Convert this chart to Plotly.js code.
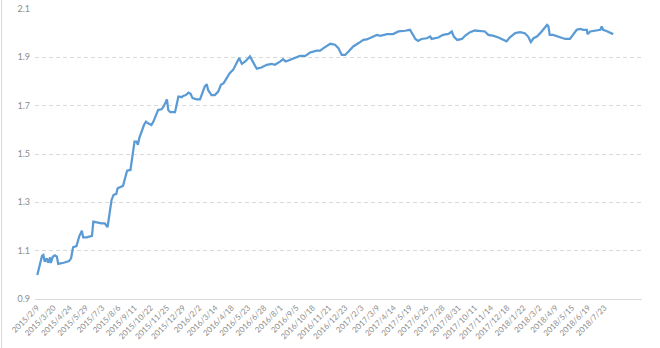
<!DOCTYPE html>
<html>
<head>
<meta charset="utf-8">
<script src="https://cdn.plot.ly/plotly-3.0.1.min.js"></script>
<style>html,body{margin:0;padding:0;background:#fff;}#chart{width:660px;height:348px;}</style>
</head>
<body>
<div id="chart"></div>
<script>
// Tick labels (one every 24 trading days on a category axis)
var tickLabels = ["2015/2/9","2015/3/20","2015/4/24","2015/5/29","2015/7/3","2015/8/6","2015/9/11","2015/10/22","2015/11/25","2015/12/29","2016/2/2","2016/3/14","2016/4/18","2016/5/23","2016/6/28","2016/8/1","2016/9/5","2016/10/18","2016/11/21","2016/12/23","2017/2/3","2017/3/9","2017/4/14","2017/5/19","2017/6/26","2017/7/28","2017/8/31","2017/10/11","2017/11/14","2017/12/18","2018/1/22","2018/3/2","2018/4/9","2018/5/15","2018/6/19","2018/7/23"];
var labelStep = 24;

var dayIndex = [0,7,9,11,14,16,19,20,23,26,29,31,39,47,50,53,58,62,66,68,73,81,83,88,95,100,104,106,110,113,117,119,125,127,130,133,138,141,142,144,147,149,151,155,158,161,164,169,172,176,179,184,187,192,194,197,204,209,214,216,220,224,227,230,236,241,244,248,251,253,258,263,268,272,276,281,285,290,295,299,303,308,315,320,325,332,340,347,352,360,364,368,374,384,389,397,404,414,419,424,434,441,446,451,456,461,468,476,483,488,495,503,508,518,527,535,545,552,555,560,564,569,577,582,584,589,594,601,609,614,617,622,629,634,641,648,656,663,668,676,683,690,695,700,708,715,722,727,731,735,740,745,750,755,757,759,764,769,774,782,789,794,799,804,809,814,815,819,826,834,836,838,843,848,853];
var netValue = [0.999,1.078,1.082,1.054,1.068,1.050,1.072,1.049,1.075,1.081,1.075,1.045,1.050,1.057,1.068,1.114,1.119,1.158,1.183,1.155,1.155,1.161,1.220,1.216,1.213,1.213,1.197,1.234,1.310,1.331,1.335,1.358,1.365,1.368,1.400,1.431,1.434,1.503,1.530,1.551,1.551,1.538,1.565,1.600,1.620,1.634,1.627,1.620,1.634,1.662,1.682,1.685,1.696,1.726,1.682,1.673,1.673,1.738,1.735,1.740,1.744,1.754,1.749,1.731,1.726,1.726,1.752,1.779,1.789,1.765,1.744,1.744,1.758,1.786,1.793,1.814,1.834,1.848,1.876,1.897,1.873,1.883,1.904,1.880,1.853,1.858,1.869,1.873,1.869,1.883,1.892,1.883,1.890,1.899,1.906,1.906,1.920,1.928,1.928,1.938,1.956,1.952,1.938,1.910,1.910,1.924,1.945,1.959,1.972,1.974,1.983,1.993,1.989,1.996,1.996,2.007,2.010,2.014,2.000,1.976,1.968,1.976,1.979,1.986,1.976,1.979,1.982,1.993,1.997,2.007,1.986,1.972,1.976,1.990,2.004,2.011,2.009,2.007,1.993,1.989,1.982,1.972,1.966,1.983,2.000,2.004,2.000,1.986,1.963,1.979,1.986,2.000,2.018,2.034,2.029,1.993,1.993,1.989,1.982,1.976,1.976,1.996,2.014,2.018,2.014,2.014,1.996,2.007,2.009,2.014,2.028,2.014,2.009,2.004,1.996];

var tickVals = tickLabels.map(function(_, i){ return i * labelStep; });

var trace = {
  x: dayIndex,
  y: netValue,
  type: 'scatter',
  mode: 'lines',
  line: {color: '#5B9BD5', width: 2.25, shape: 'linear'},
  hoverinfo: 'skip'
};

var layout = {
  width: 660,
  height: 348,
  margin: {l: 35, r: 18, t: 9, b: 49},
  paper_bgcolor: '#ffffff',
  plot_bgcolor: '#ffffff',
  showlegend: false,
  font: {family: 'Lato, "Open Sans", sans-serif', color: '#808080'},
  xaxis: {
    range: [-3.4, 895.7],
    tickmode: 'array',
    tickvals: tickVals,
    ticktext: tickLabels,
    tickangle: -45,
    tickfont: {size: 8, color: '#8c8c8c'},
    showgrid: false,
    zeroline: false,
    showline: true,
    linecolor: '#d9d9d9',
    linewidth: 1,
    ticks: '',
    ticklen: 0
  },
  yaxis: {
    range: [0.9, 2.1],
    tickmode: 'array',
    tickvals: [0.9, 1.1, 1.3, 1.5, 1.7, 1.9, 2.1],
    ticktext: ['0.9', '1.1', '1.3', '1.5', '1.7', '1.9', '2.1'],
    tickfont: {size: 9, color: '#8c8c8c'},
    showgrid: true,
    gridcolor: '#d9d9d9',
    griddash: '4px,3px',
    gridwidth: 1,
    zeroline: false,
    showline: false,
    ticks: '',
    ticklabelstandoff: 4
  },
  shapes: [{
    type: 'line', xref: 'paper', yref: 'paper',
    x0: -0.055, x1: -0.055, y0: -0.2, y1: 1.05,
    line: {color: '#d9d9d9', width: 1}
  }]
};

Plotly.newPlot('chart', [trace], layout, {staticPlot: true, displayModeBar: false});
</script>
</body>
</html>
